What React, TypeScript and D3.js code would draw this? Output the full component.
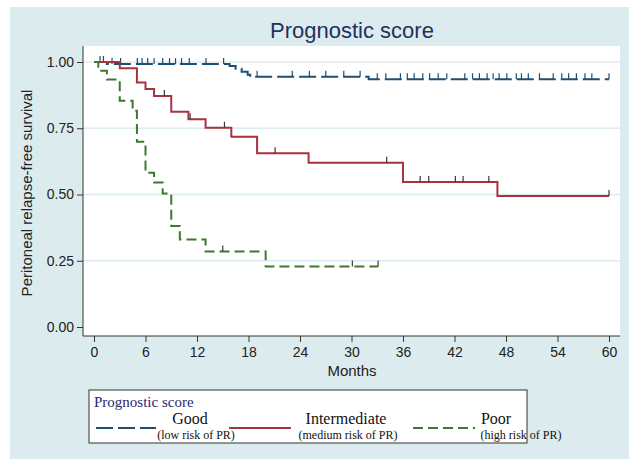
import React, { useEffect, useRef } from 'react';
import * as d3 from 'd3';

// month ticks and survival ticks
const monthTicks = [0, 6, 12, 18, 24, 30, 36, 42, 48, 54, 60];
const survTicks = [0, 0.25, 0.5, 0.75, 1];

// Good (low risk of PR)
const goodTimes = [1.5, 15.8, 16.5, 17.2, 17.9, 18.2, 32];
const goodSurv = [0.992, 0.985, 0.975, 0.963, 0.952, 0.944, 0.935];
const goodEnd = 60;
const goodCensor = [0.7, 1.1, 2.1, 3.1, 5.05, 5.6, 6.25, 7, 8, 8.8, 9.5, 10.2, 11.1, 13.05, 15.1, 19, 23.1, 25.1, 27,
  29.1, 31, 33, 34, 35.7, 36.5, 37.3, 38.3, 39.1, 40.1, 41.1, 43.2, 44.1, 44.9, 45.8, 46.5, 47.2, 48.1, 49.2, 49.8,
  50.6, 51.9, 53.5, 54.5, 55.3, 56.2, 57.2, 58, 60];

// Intermediate (medium risk of PR)
const midTimes = [3, 5, 6, 7, 9, 11, 13, 16, 19, 25, 36, 47];
const midSurv = [0.976, 0.923, 0.898, 0.872, 0.812, 0.784, 0.752, 0.718, 0.656, 0.62, 0.547, 0.494];
const midEnd = 60;
const midCensor = [8.2, 11.2, 15.2, 21.1, 34.1, 38, 39, 42.1, 43, 46, 60];

// Poor (high risk of PR)
const poorTimes = [0.5, 1.5, 3, 4.5, 5, 6, 7, 8, 9, 10, 13, 20];
const poorSurv = [0.967, 0.934, 0.854, 0.816, 0.699, 0.582, 0.545, 0.504, 0.381, 0.33, 0.285, 0.228];
const poorEnd = 33.1;
const poorCensor = [15, 30.1, 33.1];

const series = [
  { key: 'good', times: goodTimes, surv: goodSurv, end: goodEnd, censor: goodCensor, color: '#1d4f74', tick: '#1d4f74', dash: '17,5' },
  { key: 'mid', times: midTimes, surv: midSurv, end: midEnd, censor: midCensor, color: '#a8323f', tick: '#3a3a3a', dash: null },
  { key: 'poor', times: poorTimes, surv: poorSurv, end: poorEnd, censor: poorCensor, color: '#3b7a2c', tick: '#3a3a3a', dash: '10,5' },
];

const legendItems = [
  { label: 'Good', sub: '(low risk of PR)', color: '#1d4f74', dash: '17,5', x1: 96, x2: 156, tx: 190, sx: 196 },
  { label: 'Intermediate', sub: '(medium risk of PR)', color: '#a8323f', dash: null, x1: 229, x2: 291, tx: 346, sx: 348 },
  { label: 'Poor', sub: '(high risk of PR)', color: '#3b7a2c', dash: '10,5', x1: 413, x2: 475, tx: 496, sx: 521 },
];

export default function App() {
  const ref = useRef<SVGSVGElement>(null);

  useEffect(() => {
    const svg = d3.select(ref.current);
    svg.selectAll('*').remove();

    const left = 83, right = 620, top = 46, bottom = 336;
    const x = d3.scaleLinear().domain([0, 60]).range([94, 609]);
    const y = d3.scaleLinear().domain([0, 1]).range([327, 62]);

    // outer background
    svg.append('rect').attr('x', 10).attr('y', 7).attr('width', 619).attr('height', 452).attr('fill', '#dcecee');
    // plot region
    svg.append('rect').attr('x', left).attr('y', top).attr('width', right - left).attr('height', bottom - top).attr('fill', '#ffffff');

    // grid
    svg.append('g').selectAll('line').data(survTicks.filter(d => d > 0)).enter().append('line')
      .attr('x1', left).attr('x2', right).attr('y1', d => y(d)).attr('y2', d => y(d))
      .attr('stroke', '#dcecee').attr('stroke-width', 1.5);

    // axes
    const yAxis = svg.append('g').attr('transform', `translate(${left},0)`)
      .call(d3.axisLeft(y).tickValues(survTicks).tickFormat(d3.format('.2f')).tickSize(6).tickSizeOuter(0).tickPadding(3));
    yAxis.select('.domain').attr('d', `M0,${top}V${bottom}`).attr('stroke', '#333');
    yAxis.selectAll('text').attr('font-family', 'Liberation Sans, Arial, sans-serif').attr('font-size', 14).attr('fill', '#222');
    yAxis.selectAll('.tick line').attr('stroke', '#333');

    const xAxis = svg.append('g').attr('transform', `translate(0,${bottom})`)
      .call(d3.axisBottom(x).tickValues(monthTicks).tickSize(6).tickSizeOuter(0).tickPadding(5));
    xAxis.select('.domain').attr('d', `M${left},0H${right}`).attr('stroke', '#333');
    xAxis.selectAll('text').attr('font-family', 'Liberation Sans, Arial, sans-serif').attr('font-size', 14).attr('fill', '#222');
    xAxis.selectAll('.tick line').attr('stroke', '#333');

    // titles
    svg.append('text').attr('x', 352).attr('y', 38).attr('text-anchor', 'middle')
      .attr('font-family', 'Liberation Sans, Arial, sans-serif').attr('font-size', 22).attr('fill', '#1f3160')
      .text('Prognostic score');
    svg.append('text').attr('x', 352).attr('y', 376).attr('text-anchor', 'middle')
      .attr('font-family', 'Liberation Sans, Arial, sans-serif').attr('font-size', 15).attr('fill', '#222')
      .text('Months');
    svg.append('text').attr('transform', 'translate(32,193) rotate(-90)').attr('text-anchor', 'middle')
      .attr('font-family', 'Liberation Sans, Arial, sans-serif').attr('font-size', 15).attr('fill', '#222')
      .text('Peritoneal relapse-free survival');

    // curves
    const line = d3.line<[number, number]>().x(d => x(d[0])).y(d => y(d[1])).curve(d3.curveStepAfter);
    series.forEach(s => {
      const pts: [number, number][] = [[0, 1]];
      s.times.forEach((t, i) => pts.push([t, s.surv[i]]));
      pts.push([s.end, s.surv[s.surv.length - 1]]);
      const stepAt = (t: number) => {
        let v = 1;
        s.times.forEach((tt, i) => { if (tt <= t) v = s.surv[i]; });
        return v;
      };
      const g = svg.append('g');
      g.append('path').attr('d', line(pts)).attr('fill', 'none')
        .attr('stroke', s.color).attr('stroke-width', 2)
        .attr('stroke-dasharray', s.dash);
      g.selectAll('line').data(s.censor).enter().append('line')
        .attr('x1', d => x(d)).attr('x2', d => x(d))
        .attr('y1', d => y(stepAt(d))).attr('y2', d => y(stepAt(d)) - 6)
        .attr('stroke', s.tick).attr('stroke-width', 1.2);
    });

    // legend
    const lg = svg.append('g');
    lg.append('rect').attr('x', 89).attr('y', 390).attr('width', 438).attr('height', 53)
      .attr('fill', '#ffffff').attr('stroke', '#333').attr('stroke-width', 1);
    lg.append('text').attr('x', 94).attr('y', 407)
      .attr('font-family', 'Liberation Serif, Times New Roman, serif').attr('font-size', 15).attr('fill', '#2a2a70')
      .text('Prognostic score');
    legendItems.forEach(it => {
      lg.append('line').attr('x1', it.x1).attr('x2', it.x2).attr('y1', 428).attr('y2', 428)
        .attr('stroke', it.color).attr('stroke-width', 2).attr('stroke-dasharray', it.dash);
      lg.append('text').attr('x', it.tx).attr('y', 424).attr('text-anchor', 'middle')
        .attr('font-family', 'Liberation Serif, Times New Roman, serif').attr('font-size', 16).attr('fill', '#111')
        .text(it.label);
      lg.append('text').attr('x', it.sx).attr('y', 439).attr('text-anchor', 'middle')
        .attr('font-family', 'Liberation Serif, Times New Roman, serif').attr('font-size', 12).attr('fill', '#111')
        .text(it.sub);
    });
  }, []);

  return (
    <svg ref={ref} width={629} height={459} style={{ position: 'absolute', left: 0, top: 0, background: '#ffffff' }} />
  );
}
